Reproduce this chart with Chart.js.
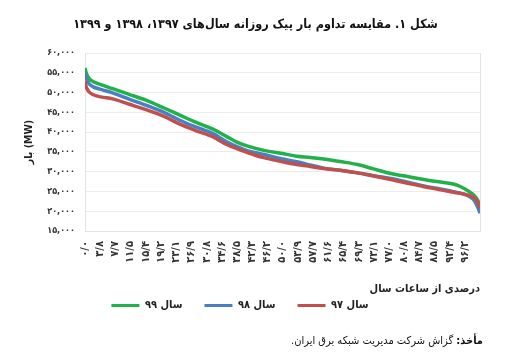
<!DOCTYPE html>
<html><head><meta charset="utf-8">
<script src="https://cdn.jsdelivr.net/npm/chart.js@4.4.1/dist/chart.umd.min.js"></script>
<style>
html,body{margin:0;padding:0;background:#fff;}
#wrap{position:relative;width:511px;height:360px;overflow:hidden;font-family:"DejaVu Sans",sans-serif;}
#c{position:absolute;left:0;top:0;}
#title{position:absolute;left:0;width:511px;top:16px;text-align:center;font-family:"DejaVu Sans Condensed","DejaVu Sans",sans-serif;font-weight:bold;font-size:12.5px;color:#111;direction:rtl;}
#src{position:absolute;right:28px;top:334px;font-family:"DejaVu Sans Condensed","DejaVu Sans",sans-serif;font-size:11px;color:#111;direction:rtl;}
</style></head>
<body><div id="wrap">
<canvas id="c" width="511" height="360"></canvas>
<div id="title">شکل ۱. مقایسه تداوم بار پیک روزانه سال‌های ۱۳۹۷، ۱۳۹۸ و ۱۳۹۹</div>
<div id="src"><b>مأخذ:</b> گزاش شرکت مدیریت شبکه برق ایران.</div>
</div>
<script>
// percent of hours of the year
const xPercent = [0,0.3,1,2,4,7,11,15.4,20,24,28,32.4,36,38.3,41,45,50,53.6,57,60.4,65,69,73,77.4,82,85.8,89,92.6,94.5,96,97.5,98.5,99.3,100];
const load97 = [53000,51500,50200,49500,48900,48400,47100,45700,44000,42000,40400,38800,36800,35900,34900,33600,32500,31800,31300,30800,30300,29700,28900,28000,27000,26200,25600,24900,24600,24300,23900,23400,22500,20800];
const load98 = [55000,53800,52300,51500,50800,49900,48400,46800,45000,43000,41300,39600,37500,36400,35300,34400,33200,32500,31700,30900,30300,29700,29000,28300,27300,26400,25800,25100,24700,24300,23600,22800,21300,19500];
const load99 = [56200,55000,53600,52800,52000,51000,49600,48100,46100,44300,42500,40760,38800,37550,36500,35440,34600,33900,33600,33200,32500,31800,30700,29540,28700,28020,27500,27000,26500,25740,24800,24000,23000,21500];
const seriesNames = ['سال ۹۷','سال ۹۸','سال ۹۹'];
const xTickValues = [0,3.8,7.7,11.5,15.4,19.2,23.1,26.9,30.8,34.6,38.5,42.3,46.2,50.0,53.9,57.7,61.6,65.4,69.3,73.1,77.0,80.8,84.7,88.5,92.4,96.2];
const xTickLabels = ['۰/۰','۳/۸','۷/۷','۱۱/۵','۱۵/۴','۱۹/۲','۲۳/۱','۲۶/۹','۳۰/۸','۳۴/۶','۳۸/۵','۴۲/۳','۴۶/۲','۵۰/۰','۵۳/۹','۵۷/۷','۶۱/۶','۶۵/۴','۶۹/۳','۷۳/۱','۷۷/۰','۸۰/۸','۸۴/۷','۸۸/۵','۹۲/۴','۹۶/۲'];
const yTickValues = [15000,20000,25000,30000,35000,40000,45000,50000,55000,60000];
const yTickLabels = ['۱۵,۰۰۰','۲۰,۰۰۰','۲۵,۰۰۰','۳۰,۰۰۰','۳۵,۰۰۰','۴۰,۰۰۰','۴۵,۰۰۰','۵۰,۰۰۰','۵۵,۰۰۰','۶۰,۰۰۰'];

const colors = ['#c0504d','#4a7fc1','#22b04b'];
const FONT = '"DejaVu Sans Condensed", "DejaVu Sans", sans-serif';
function pts(arr){ return xPercent.map((x,i)=>({x:x,y:arr[i]})); }
const sets = [load97, load98, load99].map((arr,i)=>({
  label: seriesNames[i], data: pts(arr), borderColor: colors[i], backgroundColor: colors[i],
  borderWidth: 3.5, pointRadius: 0, cubicInterpolationMode: 'monotone', fill: false
}));

new Chart(document.getElementById('c'), {
  type: 'line',
  data: { datasets: sets },
  options: {
    responsive: false, animation: false,
    layout: { padding: { top: 53, right: 31, left: 0, bottom: 39 } },
    plugins: {
      tooltip: { enabled: false },
      legend: {
        position: 'bottom', reverse: true,
        labels: { boxWidth: 28, boxHeight: 3, padding: 22, color: '#222', font: { family: FONT, size: 11, weight: 'bold' },
          generateLabels: chart => Chart.defaults.plugins.legend.labels.generateLabels(chart).map(l => Object.assign(l, { lineWidth: 0 })) }
      }
    },
    scales: {
      x: {
        type: 'linear', min: 0, max: 100,
        afterBuildTicks: s => { s.ticks = xTickValues.map(v => ({ value: v })); },
        afterFit: s => { s.height = 47; },
        ticks: {
          autoSkip: false, minRotation: 90, maxRotation: 90, padding: 2,
          color: '#333', font: { family: FONT, size: 11, weight: 'bold' },
          callback: (v, i) => xTickLabels[i]
        },
        grid: { display: false },
        border: { display: true, color: '#e3e3e3' },
        title: { display: true, text: 'درصدی از ساعات سال', align: 'end', color: '#222',
          font: { family: FONT, size: 11, weight: 'bold' }, padding: { top: 0, bottom: -18 } }
      },
      y: {
        min: 15000, max: 60000,
        afterBuildTicks: s => { s.ticks = yTickValues.map(v => ({ value: v })); },
        afterFit: s => { s.width = 85; },
        ticks: { padding: 10, color: '#333', font: { family: FONT, size: 9, weight: 'bold' },
          callback: (v) => yTickLabels[yTickValues.indexOf(v)] },
        grid: { color: '#ececec', drawTicks: false, lineWidth: 1 },
        border: { display: true, color: '#e3e3e3' },
        title: { display: true, text: 'بار (MW)', color: '#222',
          font: { family: FONT, size: 10.5, weight: 'bold' }, padding: { top: 23, bottom: 0 } }
      },
      y2: {
        position: 'right', min: 15000, max: 60000,
        afterFit: s => { s.width = 0; },
        ticks: { display: false }, grid: { display: false },
        border: { display: true, color: '#e3e3e3' }
      }
    }
  }
});
</script>
</body></html>
